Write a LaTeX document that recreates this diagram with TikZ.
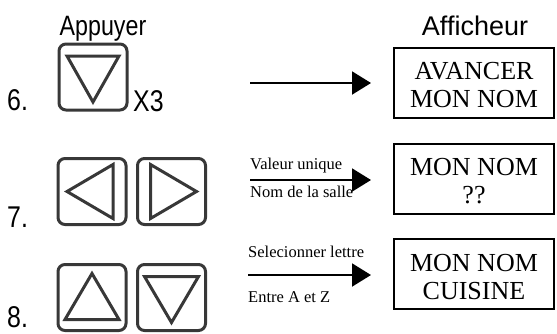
\documentclass[tikz,border=0pt]{standalone}
\usepackage{fontspec}
\setmainfont{Liberation Serif}
\newfontfamily\narrowsans[FakeStretch=0.83]{Liberation Sans}
\newfontfamily\plainsans{Liberation Sans}
\usetikzlibrary{positioning,arrows.meta}

\definecolor{keygray}{HTML}{383838}

\tikzset{
  key/.style={draw=keygray, line width=3pt, rounded corners=7pt, minimum width=68pt, minimum height=66pt, inner sep=0pt},
  tri/.style={draw=keygray, line width=3pt},
  screen/.style={draw, line width=2pt, minimum width=160pt, minimum height=70pt, inner sep=0pt, align=center, text height=51pt, font=\fontsize{26}{28}\selectfont},
  stepnum/.style={anchor=base west, inner sep=0pt, font=\narrowsans\fontsize{30}{30}\selectfont},
  hint/.style={anchor=base west, inner sep=0pt, font=\fontsize{16.5}{17}\selectfont},
  arr/.style={-{Triangle[length=19pt,width=23pt]}, line width=2pt, shorten >=22pt},
}

\begin{document}
\begin{tikzpicture}[x=1pt,y=-1pt]
\useasboundingbox (0,0) rectangle (557,333);

% headings
\node[anchor=base, inner sep=0pt, font=\narrowsans\fontsize{28}{28}\selectfont] (press) at (103,35) {Appuyer};
\node[anchor=base, inner sep=0pt, font=\plainsans\fontsize{27}{27}\selectfont] (show) at (475,35) {Afficheur};

% step numbers
\node[stepnum] (n6) at (7,110) {6.};
\node[stepnum] (n7) at (7,227) {7.};
\node[stepnum] (n8) at (7,327) {8.};

% keys
\node[key] (b6) at (93,77) {};
\node[stepnum] (times) at (133,111) {X3};
\node[key] (b7l) at (92,191.5) {};
\node[key, right=8.5pt of b7l] (b7r) {};
\node[key] (b8u) at (92,297.5) {};
\node[key, right=8.5pt of b8u] (b8d) {};

\draw [tri, shift={(b6.center)}] (-26,-21) -- (26,-21) -- (0,25) -- cycle;
\draw [tri, shift={(b7l.center)}] (-25,0) -- (21,-27) -- (21,27) -- cycle;
\draw [tri, shift={(b7r.center)}] (25,0) -- (-21,-27) -- (-21,27) -- cycle;
\draw [tri, shift={(b8u.center)}] (0,-24) -- (27,22) -- (-27,22) -- cycle;
\draw [tri, shift={(b8d.center)}] (-27,-21) -- (27,-21) -- (0,25) -- cycle;

% screens
\node[screen] (d6) at (474,82.5) {AVANCER\\MON NOM};
\node[screen] (d7) at (474,178.5) {MON NOM\\??};
\node[screen] (d8) at (474,274) {MON NOM\\CUISINE};

% arrows
\coordinate (a6) at (250,83);
\coordinate (a7) at (250,180);
\coordinate (a8) at (248,275);
\draw [arr] (a6) -- (a6 -| d6.west);
\draw [arr] (a7) -- (a7 -| d7.west);
\draw [arr] (a8) -- (a8 -| d8.west);

\node[hint] (h7a) at (250,169) {Valeur unique};
\node[hint] (h7b) at (250,197) {Nom de la salle};
\node[hint] (h8a) at (248,257) {Selecionner lettre};
\node[hint] (h8b) at (248,302) {Entre A et Z};

\end{tikzpicture}
\end{document}
